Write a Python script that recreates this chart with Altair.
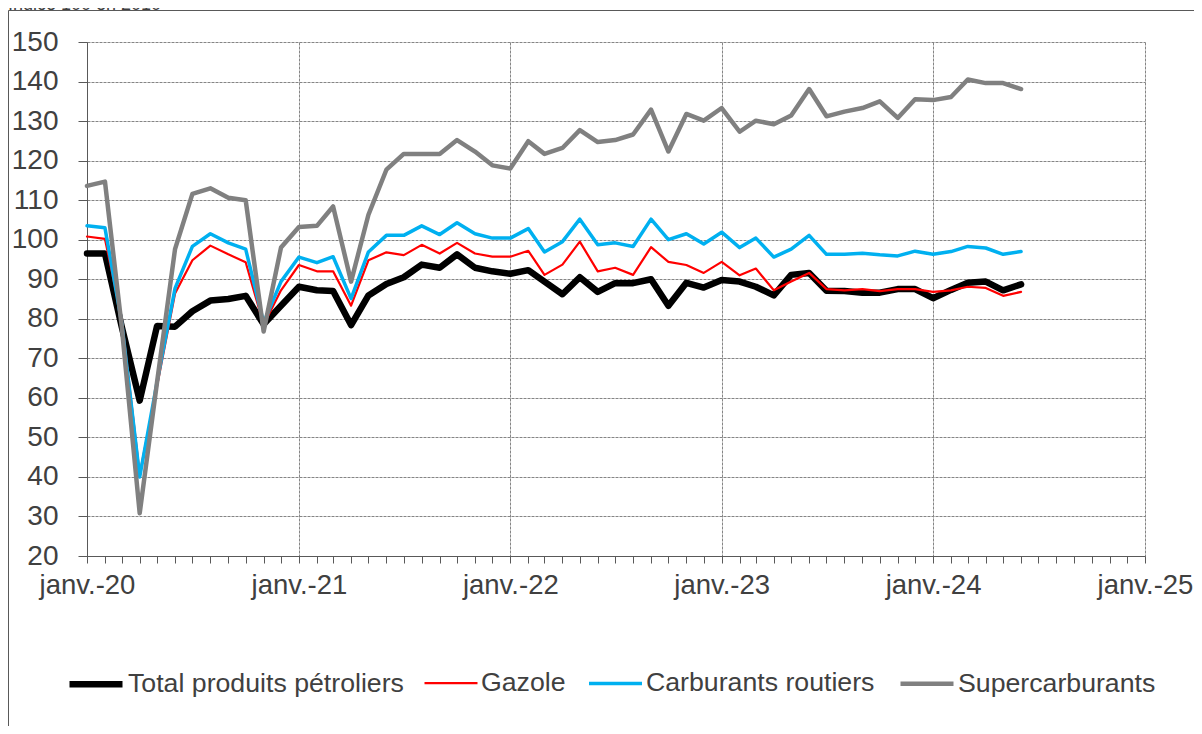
import altair as alt
import pandas as pd
from datetime import datetime, timezone

series = ["Total produits pétroliers", "Gazole", "Carburants routiers", "Supercarburants"]
colors = ["#000000", "#FF0000", "#00B0F0", "#808080"]
widths = [6.5, 2.2, 3.5, 4.5]

# Monthly, janv. 2020 -> juin 2024
start_year, start_month, n_months = 2020, 1, 54

total = [96.5, 96.5, 78, 59.3, 78.2, 78, 81.9, 84.6, 85, 85.8, 78.6, 83.3,
         88.1, 87.2, 87, 78.4, 85.9, 88.8, 90.5, 93.7, 92.9, 96.3, 92.9, 92,
         91.4, 92.3, 89.4, 86.2, 90.5, 86.8, 89, 89, 90, 83.3, 89.1, 87.9,
         89.8, 89.4, 88.1, 85.9, 91.1, 91.6, 87.1, 87, 86.6, 86.6, 87.5, 87.5,
         85.2, 87.3, 89.1, 89.4, 87.2, 88.7]
gazole = [100.8, 100.2, 80, 40.7, 63, 86.4, 94.8, 98.5, 96.3, 94.3, 78.5, 87.2,
          93.6, 92, 92, 83.3, 94.8, 96.8, 96.1, 98.7, 96.5, 99.2, 96.5, 95.7,
          95.7, 97.2, 91.1, 93.7, 99.5, 92, 92.9, 91.1, 98.1, 94.4, 93.6, 91.6,
          94.4, 91, 92.7, 87.2, 89.4, 91.6, 87.5, 87.2, 87.5, 87, 87.5, 87.5,
          86.8, 87.2, 88.1, 87.8, 85.8, 86.8]
carburants = [103.5, 103, 79, 40, 64, 87.7, 98.3, 101.5, 99.2, 97.6, 79, 89.4,
              95.6, 94.2, 95.7, 85.1, 96.9, 101.1, 101.1, 103.5, 101.3, 104.3, 101.5, 100.4,
              100.4, 102.8, 96.9, 99.5, 105.2, 98.7, 99.2, 98.3, 105.2, 100, 101.5, 98.9,
              101.9, 98, 100.4, 95.6, 97.6, 101.1, 96.3, 96.3, 96.6, 96.2, 95.9, 97.1,
              96.3, 97, 98.3, 97.9, 96.3, 97]
super_ = [113.6, 114.7, 78, 30.8, 64, 97.6, 111.6, 113, 110.6, 110, 76.8, 98,
          103.2, 103.5, 108.4, 89.4, 106.3, 117.7, 121.7, 121.7, 121.7, 125.2, 122.3, 118.8,
          118, 124.9, 121.7, 123.2, 127.7, 124.7, 125.2, 126.6, 132.9, 122.3, 131.8, 130.1,
          133.3, 127.3, 130.1, 129.2, 131.4, 138.1, 131.2, 132.4, 133.3, 135, 130.8, 135.5,
          135.3, 136.1, 140.5, 139.6, 139.6, 138.1]

y_ticks = list(range(20, 151, 10))


def month_ms(i):
    y = start_year + (start_month - 1 + i) // 12
    m = (start_month - 1 + i) % 12 + 1
    return int(datetime(y, m, 1, tzinfo=timezone.utc).timestamp() * 1000)


dates = [month_ms(i) for i in range(n_months)]
axis_months = [month_ms(i) for i in range(61)]  # janv.-20 .. janv.-25

rows = []
for name, vals in zip(series, [total, gazole, carburants, super_]):
    for d, v in zip(dates, vals):
        rows.append({"date": d, "value": v, "series": name})
df = pd.DataFrame(rows)

FONT = "Liberation Sans"
TXT = "#404040"
AX = "#595959"
GRID = "#858585"

x_axis = alt.Axis(
    values=axis_months, title=None, labelExpr="utcmonth(datum.value)==0 ? 'janv.-' + utcFormat(datum.value, '%y') : ''",
    labelOverlap=False, labelFontSize=27.5, labelFont=FONT, labelColor=TXT, labelPadding=8,
    tickSize=7, tickColor=AX, domainColor=AX, grid=True, gridColor=GRID, gridDash=[3, 1],
    gridOpacity={"condition": {"test": "utcmonth(datum.value)==0", "value": 1}, "value": 0},
    labelFlush=False,
)
y_axis = alt.Axis(
    values=y_ticks, title=None, labelFontSize=28, labelFont=FONT, labelColor=TXT, labelPadding=20,
    tickSize=9, tickColor=AX, domainColor=AX, grid=True, gridColor=GRID, gridDash=[3, 1],
)

lines = alt.Chart(df).mark_line(strokeJoin="round", strokeCap="round").encode(
    x=alt.X("date:T", scale=alt.Scale(type="utc", domain=[month_ms(0), month_ms(60)]), axis=x_axis),
    y=alt.Y("value:Q", scale=alt.Scale(domain=[20, 150], nice=False), axis=y_axis),
    color=alt.Color("series:N", scale=alt.Scale(domain=series, range=colors), sort=series,
                    legend=alt.Legend(orient="none", legendX=-21, legendY=612, direction="horizontal",
                                      title=None, symbolType="stroke", symbolSize=2809,
                                      labelFontSize=26.7, labelFont=FONT, labelColor=TXT, labelLimit=600,
                                      labelOffset=2, columnPadding=16, padding=0)),
    strokeWidth=alt.StrokeWidth("series:N", scale=alt.Scale(type="ordinal", domain=series, range=widths),
                                sort=series),
    order=alt.Order("date:T"),
)

frame_data = alt.Data(values=[{"k": 1}])
frame_left = alt.Chart(frame_data).mark_rule(color=AX, strokeWidth=1).encode(
    x=alt.value(-78.5), y=alt.value(-31.5), y2=alt.value(700))
frame_top = alt.Chart(frame_data).mark_rule(color=AX, strokeWidth=1).encode(
    x=alt.value(-78.5), x2=alt.value(1110), y=alt.value(-31.5))
title_txt = alt.Chart(frame_data).mark_text(
    text="Indice 100 en 2010", font=FONT, fontSize=18, color=TXT, align="left", baseline="alphabetic"
).encode(x=alt.value(-79), y=alt.value(-32.5))

chart = alt.layer(lines, frame_left, frame_top, title_txt).properties(
    width=1058, height=514,
    autosize=alt.AutoSizeParams(type="none"),
    padding={"left": 79, "top": 34, "right": 49, "bottom": 170},
).configure_view(stroke=None)

chart.save("out.html", embed_options={"renderer": "svg", "actions": False})
